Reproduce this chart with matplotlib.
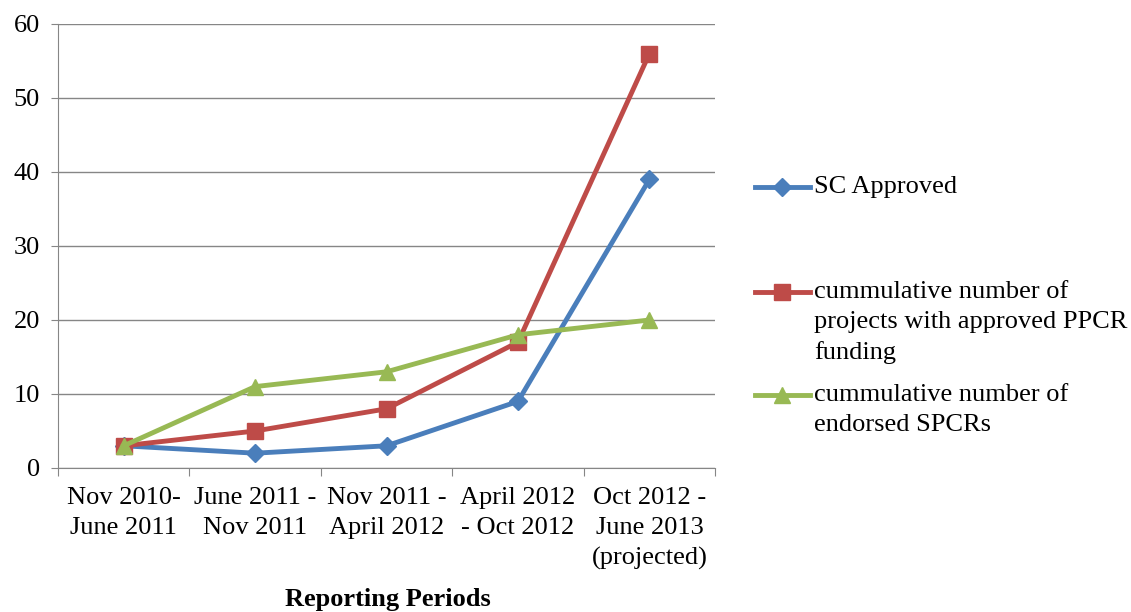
import matplotlib.pyplot as plt
from matplotlib.lines import Line2D

periods = ["Nov 2010-\nJune 2011", "June 2011 -\nNov 2011", "Nov 2011 -\nApril 2012",
           "April 2012\n- Oct 2012", "Oct 2012 -\nJune 2013\n(projected)"]
sc_approved = [3, 2, 3, 9, 39]
ppcr_projects = [3, 5, 8, 17, 56]
endorsed_spcrs = [3, 11, 13, 18, 20]

labels = ["SC Approved",
          "cummulative number of\nprojects with approved PPCR\nfunding",
          "cummulative number of\nendorsed SPCRs"]
colors = ["#4A7EBB", "#BE4B48", "#98B954"]
markers = ["D", "s", "^"]
msizes = [9, 12, 12]

plt.rcParams['font.family'] = ['Liberation Serif', 'DejaVu Serif']
FS = 19
LS = 1.45

fig = plt.figure(figsize=(11.31, 6.12), dpi=100)
ax = fig.add_axes([0.0513, 0.2353, 0.5810, 0.7255])

x = list(range(len(periods)))
series = [sc_approved, ppcr_projects, endorsed_spcrs]
for vals, c, m, ms in zip(series, colors, markers, msizes):
    ax.plot(x, vals, color=c, lw=3.5, marker=m, markersize=ms, zorder=3)

ax.set_xlim(-0.5, len(periods) - 0.5)
ax.set_ylim(0, 60)
ax.set_yticks(range(0, 61, 10))
ax.yaxis.grid(True, color="#868686", lw=1)
ax.set_axisbelow(True)
for s in ["top", "right"]:
    ax.spines[s].set_visible(False)
for s in ["left", "bottom"]:
    ax.spines[s].set_color("#868686")
ax.tick_params(axis="y", labelsize=FS, length=5, color="#868686", pad=8)

# category labels centred, tick marks between categories
ax.set_xticks([i - 0.5 for i in range(len(periods) + 1)])
ax.set_xticklabels([])
ax.tick_params(axis="x", length=6, color="#868686")
for i, lab in enumerate(periods):
    ax.annotate(lab, xy=(i, 0), xycoords=("data", "axes fraction"),
                xytext=(0, -14), textcoords="offset points",
                ha="center", va="top", fontsize=FS, linespacing=LS)

fig.text(0.343, 0.002, "Reporting Periods", ha="center", va="bottom",
         fontsize=FS, fontweight="bold")

# legend
W, H = 1131, 612
first_line_y = [187, 292, 395]
for lab, c, m, ms, yy in zip(labels, colors, markers, msizes, first_line_y):
    yf = 1 - yy / H
    fig.add_artist(Line2D([755 / W, 810 / W], [yf, yf], color=c, lw=3.5,
                          transform=fig.transFigure))
    fig.add_artist(Line2D([782 / W], [yf], color=c, marker=m,
                          markersize=ms, transform=fig.transFigure))
    fig.text(814 / W, yf + 11 / H, lab, ha="left", va="top", fontsize=FS,
             linespacing=LS)

fig.savefig("out.png", dpi=100)
